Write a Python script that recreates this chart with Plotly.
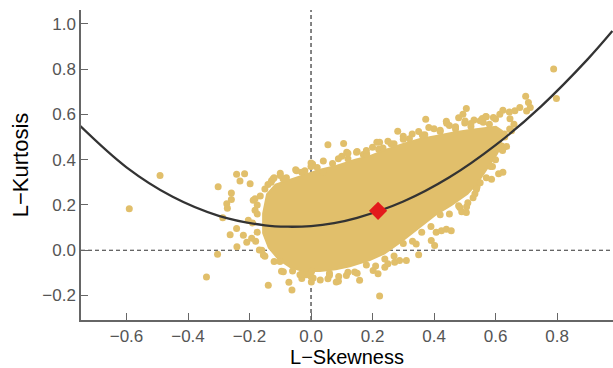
import plotly.graph_objects as go

# Dense core of the sample cloud (outline in L-skewness / L-kurtosis units)
core_tau3 = [-0.159, -0.146, -0.117, -0.068, -0.020, 0.029, 0.081, 0.143, 0.192, 0.241,
             0.299, 0.354, 0.407, 0.468, 0.517, 0.566, 0.602, 0.624, 0.624, 0.608,
             0.576, 0.543, 0.511, 0.459, 0.407, 0.354, 0.299, 0.241, 0.192, 0.127,
             0.081, 0.029, -0.026, -0.068, -0.107, -0.140, -0.159]
core_tau4 = [0.162, 0.250, 0.294, 0.316, 0.338, 0.360, 0.377, 0.404, 0.421, 0.447,
             0.474, 0.496, 0.509, 0.526, 0.535, 0.545, 0.550, 0.530, 0.491, 0.425,
             0.360, 0.294, 0.246, 0.197, 0.154, 0.096, 0.039, -0.018, -0.048, -0.075,
             -0.088, -0.096, -0.096, -0.079, -0.044, 0.009, 0.075]

# Individual sample points: outer fringe
pts_tau3 = [-0.591, -0.491, -0.340, -0.304, -0.302, -0.287, -0.274, -0.272, -0.263, -0.259,
            -0.259, -0.242, -0.242, -0.241, -0.231, -0.220, -0.216, -0.209, -0.204, -0.198,
            -0.193, -0.188, -0.182, -0.182, -0.168, -0.155, -0.150, -0.139, -0.128, -0.123,
            -0.101, -0.096, -0.091, -0.072, -0.062, -0.047, -0.036, -0.020, -0.014, 0.005,
            0.002, 0.007, 0.001, 0.040, 0.055, 0.055, 0.082, 0.089, 0.089, 0.106,
            0.115, 0.116, 0.120, 0.142, 0.148, 0.158, 0.181, 0.202, 0.214, 0.218,
            0.223, 0.223, 0.234, 0.240, 0.272, 0.282, 0.288, 0.310, 0.329, 0.342,
            0.362, 0.373, 0.383, 0.391, 0.402, 0.407, 0.424, 0.440, 0.441, 0.456,
            0.484, 0.490, 0.505, 0.494, 0.505, 0.501, 0.506, 0.527, 0.533, 0.538,
            0.550, 0.557, 0.568, 0.584, 0.587, 0.593, 0.608, 0.610, 0.614, 0.624,
            0.624, 0.623, 0.629, 0.636, 0.645, 0.646, 0.647, 0.652, 0.660, 0.663,
            0.679, 0.698, 0.707, 0.713, 0.701, 0.789, 0.798,
            -0.140, -0.120, -0.100, 0.000, 0.180, 0.260, 0.300, 0.420, 0.470, 0.520,
            0.560, 0.350, 0.250, 0.060, -0.030]
pts_tau4 = [0.183, 0.330, -0.118, -0.018, 0.281, 0.143, 0.205, 0.186, 0.068, 0.253,
            0.224, 0.336, 0.096, 0.015, 0.306, 0.066, 0.338, 0.035, 0.133, 0.294,
            0.053, 0.221, 0.177, 0.228, 0.001, -0.021, -0.026, -0.154, 0.308, 0.316,
            -0.050, -0.093, 0.316, -0.141, -0.175, 0.351, -0.108, 0.351, -0.108, 0.381,
            -0.093, -0.123, -0.140, 0.345, 0.466, -0.126, -0.140, -0.137, 0.404, 0.471,
            -0.111, 0.433, 0.428, -0.096, 0.433, -0.133, 0.425, -0.089, 0.477, -0.104,
            0.477, -0.202, 0.452, -0.075, -0.053, 0.525, -0.045, -0.045, 0.513, 0.028,
            0.509, 0.579, 0.542, 0.043, 0.021, 0.079, 0.086, 0.093, 0.561, 0.086,
            0.189, 0.170, 0.167, 0.601, 0.626, 0.571, 0.192, 0.232, 0.250, 0.269,
            0.298, 0.582, 0.591, 0.370, 0.314, 0.586, 0.447, 0.338, 0.601, 0.618,
            0.345, 0.440, 0.513, 0.458, 0.611, 0.535, 0.581, 0.528, 0.557, 0.616,
            0.630, 0.680, 0.652, 0.630, 0.615, 0.800, 0.670,
            0.290, 0.320, 0.330, 0.370, 0.440, 0.470, 0.490, 0.530, 0.545, 0.560,
            0.565, -0.020, -0.060, -0.110, -0.105]

# Individual sample points: dense band along the edge of the core
edge_tau3 = [-0.13, -0.10, -0.08, -0.05, -0.03, 0.00, 0.02, 0.04, 0.07, 0.10,
             0.12, 0.15, 0.17, 0.20, 0.22, 0.25, 0.27, 0.30, 0.32, 0.35,
             0.37, 0.40, 0.42, 0.45, 0.47, 0.50, 0.52, 0.55, 0.58, 0.60,
             -0.12, -0.09, -0.06, -0.03, 0.00, 0.03, 0.06, 0.09, 0.12, 0.15,
             0.18, 0.21, 0.24, 0.27, 0.30, 0.33, 0.36, 0.39, 0.42, 0.45,
             0.48, 0.51, 0.54, 0.57,
             -0.16, -0.18, -0.175, -0.19, -0.175, -0.175, -0.165, -0.15,
             0.63, 0.62, 0.60, 0.59, 0.44, 0.48, 0.53, 0.57]
edge_tau4 = [0.300, 0.340, 0.320, 0.355, 0.345, 0.385, 0.366, 0.394, 0.383, 0.415,
             0.404, 0.436, 0.423, 0.455, 0.446, 0.481, 0.470, 0.504, 0.492, 0.524,
             0.510, 0.537, 0.524, 0.551, 0.536, 0.562, 0.546, 0.572, 0.557, 0.580,
             -0.050, -0.095, -0.092, -0.125, -0.116, -0.131, -0.102, -0.116, -0.097, -0.102,
             -0.065, -0.070, -0.039, -0.025, 0.030, 0.040, 0.080, 0.105, 0.157, 0.160,
             0.196, 0.210, 0.280, 0.320,
             0.000, 0.040, 0.080, 0.120, 0.160, 0.200, 0.240, 0.270,
             0.500, 0.460, 0.400, 0.370, 0.570, 0.585, 0.575, 0.590]

# GEV theoretical L-moment ratio curve
curve_tau3 = [-0.75, -0.6, -0.45, -0.3, -0.15, -0.075, 0.0, 0.075, 0.15, 0.3,
              0.45, 0.6, 0.75, 0.9, 0.98]
curve_tau4 = [0.548, 0.366, 0.236, 0.152, 0.110, 0.104, 0.107, 0.120, 0.143, 0.215,
              0.322, 0.464, 0.638, 0.844, 0.968]

# Regional average
avg_tau3 = [0.218]
avg_tau4 = [0.174]

x_ticks = [-0.6, -0.4, -0.2, 0.0, 0.2, 0.4, 0.6, 0.8]
y_ticks = [-0.2, 0.0, 0.2, 0.4, 0.6, 0.8, 1.0]

def fmt(v):
    s = f"{v:.1f}"
    return s.replace("-", "\u2212")

PT = "#E1BF6B"
FONT = "Liberation Sans, Arial, sans-serif"

fig = go.Figure()
fig.add_trace(go.Scatter(x=core_tau3, y=core_tau4, mode="lines", fill="toself",
                         fillcolor=PT, line=dict(width=0, color=PT),
                         hoverinfo="skip", showlegend=False))
fig.add_trace(go.Scatter(x=edge_tau3, y=edge_tau4, mode="markers",
                         marker=dict(size=7, color=PT, line=dict(width=0)),
                         showlegend=False))
fig.add_trace(go.Scatter(x=pts_tau3, y=pts_tau4, mode="markers",
                         marker=dict(size=7, color=PT, line=dict(width=0)),
                         showlegend=False))
fig.add_trace(go.Scatter(x=curve_tau3, y=curve_tau4, mode="lines",
                         line=dict(color="#333333", width=2.3, shape="spline"),
                         showlegend=False))
fig.add_trace(go.Scatter(x=avg_tau3, y=avg_tau4, mode="markers",
                         marker=dict(symbol="diamond", size=14, color="#E31A1C",
                                     line=dict(width=0)),
                         showlegend=False))

fig.add_shape(type="line", xref="x", yref="paper", x0=0, x1=0, y0=0, y1=1,
              line=dict(color="#333333", width=1.2, dash="4px,3px"), layer="below")
fig.add_shape(type="line", xref="paper", yref="y", x0=0, x1=1, y0=0, y1=0,
              line=dict(color="#333333", width=1.2, dash="4px,3px"), layer="below")

axis_common = dict(showgrid=False, zeroline=False, showline=True,
                   linecolor="#666666", linewidth=1.5,
                   ticks="inside", ticklen=7, tickwidth=1.2, tickcolor="#666666",
                   tickfont=dict(family=FONT, size=17, color="#555555"))

fig.update_xaxes(range=[-0.748, 0.982], tickvals=x_ticks,
                 ticktext=[fmt(v) for v in x_ticks],
                 title=dict(text="L\u2212Skewness", standoff=8,
                            font=dict(family=FONT, size=20, color="#000000")),
                 **axis_common)
fig.update_yaxes(range=[-0.308, 1.061], tickvals=y_ticks,
                 ticktext=[fmt(v) for v in y_ticks],
                 title=dict(text="L\u2212Kurtosis", standoff=8,
                            font=dict(family=FONT, size=22, color="#000000")),
                 **axis_common)

fig.update_layout(width=613, height=368, margin=dict(l=81, r=0, t=10, b=46),
                  plot_bgcolor="white", paper_bgcolor="white")

fig.write_html("out.html")
